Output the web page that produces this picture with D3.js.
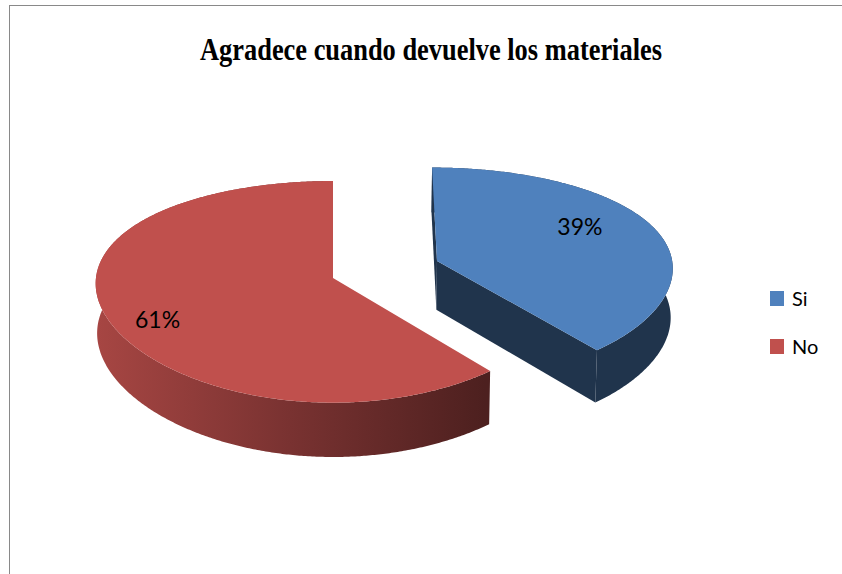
<!DOCTYPE html>
<html>
<head>
<meta charset="utf-8">
<script src="https://cdn.jsdelivr.net/npm/d3@7"></script>
<style>
  body { margin: 0; background: #fff; }
  svg { display: block; }
</style>
</head>
<body>
<script>
// Datos
const categories = ["Si", "No"];
const values = [39, 61];
const labels = ["39%", "61%"];
const colors = ["#4F81BD", "#C0504D"];
const explode = [0.47, 0];

const width = 842, height = 574;

const svg = d3.select("body").append("svg")
    .attr("width", width)
    .attr("height", height);

// Borde del gráfico
svg.append("rect")
    .attr("x", 9.5).attr("y", 5.5)
    .attr("width", 900).attr("height", 700)
    .attr("fill", "none")
    .attr("stroke", "#898989");

// Título
svg.append("text")
    .attr("x", 200).attr("y", 60)
    .attr("textLength", 462)
    .attr("lengthAdjust", "spacingAndGlyphs")
    .style("font-family", "'Times New Roman', 'Liberation Serif', serif")
    .style("font-weight", "bold")
    .style("font-size", "31px")
    .text("Agradece cuando devuelve los materiales");

// Cámara (perspectiva; en x más suave, como en Excel)
const cam = { cx: 333, cy: 278, F: 1683, D: 7.1, elev: 27.4 * Math.PI / 180, h: 0.239, q: 0.4 };
const sE = Math.sin(cam.elev), cE = Math.cos(cam.elev);
const camPos = [0, cam.D * sE, cam.D * cE];

function proj(X, Y, Z) {
    const t = Y * sE + Z * cE;
    const d = cam.D - t;
    return [
        cam.cx + (cam.F / cam.D) * X / (1 - cam.q * t / cam.D),
        cam.cy - cam.F * (Y * cE - Z * sE) / d
    ];
}

const arcs = d3.pie().sort(null).value(d => d)(values);
const total = d3.sum(values);

const line = d3.line().curve(d3.curveLinearClosed);

// Gradientes del lateral
const defs = svg.append("defs");
function shade(col, k) {
    const c = d3.rgb(col);
    return d3.rgb(c.r * k, c.g * k, c.b * k).formatHex();
}
colors.forEach(function(col, i) {
    const g = defs.append("linearGradient")
        .attr("id", "side" + i)
        .attr("gradientUnits", "userSpaceOnUse")
        .attr("x1", 95).attr("x2", 485).attr("y1", 0).attr("y2", 0);
    g.append("stop").attr("offset", 0).attr("stop-color", shade(col, 0.87));
    g.append("stop").attr("offset", 0.5).attr("stop-color", shade(col, 0.63));
    g.append("stop").attr("offset", 1).attr("stop-color", shade(col, 0.4));
});

const slices = arcs.map(function(a, i) {
    const mid = (a.startAngle + a.endAngle) / 2;
    return {
        a0: a.startAngle, a1: a.endAngle, mid: mid, i: i,
        share: a.value / total,
        ox: explode[i] * Math.sin(mid),
        oz: -explode[i] * Math.cos(mid)
    };
});

function arcPts(s, Y) {
    const pts = [];
    const n = Math.ceil((s.a1 - s.a0) / (Math.PI / 360));
    for (let k = 0; k <= n; k++) {
        const a = s.a0 + (s.a1 - s.a0) * k / n;
        pts.push(proj(s.ox + Math.sin(a), Y, s.oz - Math.cos(a)));
    }
    return pts;
}

function faceVisible(s, nx, nz) {
    return nx * (camPos[0] - s.ox) + nz * (camPos[2] - s.oz) > 0;
}

const gSides = svg.append("g");
const gTops = svg.append("g");

slices.forEach(function(s) {
    const top = arcPts(s, 0);
    const bot = arcPts(s, -cam.h);

    // Lateral exterior
    gSides.append("path")
        .attr("d", line(top.concat(bot.slice().reverse())))
        .attr("fill", "url(#side" + s.i + ")");

    // Caras de corte
    [[s.a0, s.a0 - Math.PI / 2], [s.a1, s.a1 + Math.PI / 2]].forEach(function(e) {
        const nx = Math.sin(e[1]), nz = -Math.cos(e[1]);
        if (!faceVisible(s, nx, nz)) return;
        const ex = s.ox + Math.sin(e[0]), ez = s.oz - Math.cos(e[0]);
        const quad = [
            proj(s.ox, 0, s.oz), proj(ex, 0, ez),
            proj(ex, -cam.h, ez), proj(s.ox, -cam.h, s.oz)
        ];
        gSides.append("path")
            .attr("d", line(quad))
            .attr("fill", shade(colors[s.i], 0.4));
    });

    // Cara superior
    gTops.append("path")
        .attr("d", line([proj(s.ox, 0, s.oz)].concat(top)))
        .attr("fill", colors[s.i]);
});

// Etiquetas de datos
slices.forEach(function(s) {
    const a = s.mid - 7.5 * Math.PI / 180, r = 0.5 + 0.52 * s.share;
    const p = proj(s.ox + r * Math.sin(a), 0, s.oz - r * Math.cos(a));
    svg.append("text")
        .attr("x", p[0]).attr("y", p[1])
        .attr("dy", "0.3em")
        .attr("text-anchor", "middle")
        .style("font-family", "Lato, 'Open Sans', sans-serif")
        .style("font-size", "23px")
        .text(labels[s.i]);
});

// Leyenda
const legend = svg.append("g").attr("transform", "translate(770,291)");
categories.forEach(function(c, i) {
    const row = legend.append("g").attr("transform", "translate(0," + (i * 48) + ")");
    row.append("rect").attr("width", 14).attr("height", 15).attr("fill", colors[i]);
    row.append("text")
        .attr("x", 22).attr("y", 15)
        .style("font-family", "Lato, 'Open Sans', sans-serif")
        .style("font-size", "20px")
        .text(c);
});
</script>
</body>
</html>
